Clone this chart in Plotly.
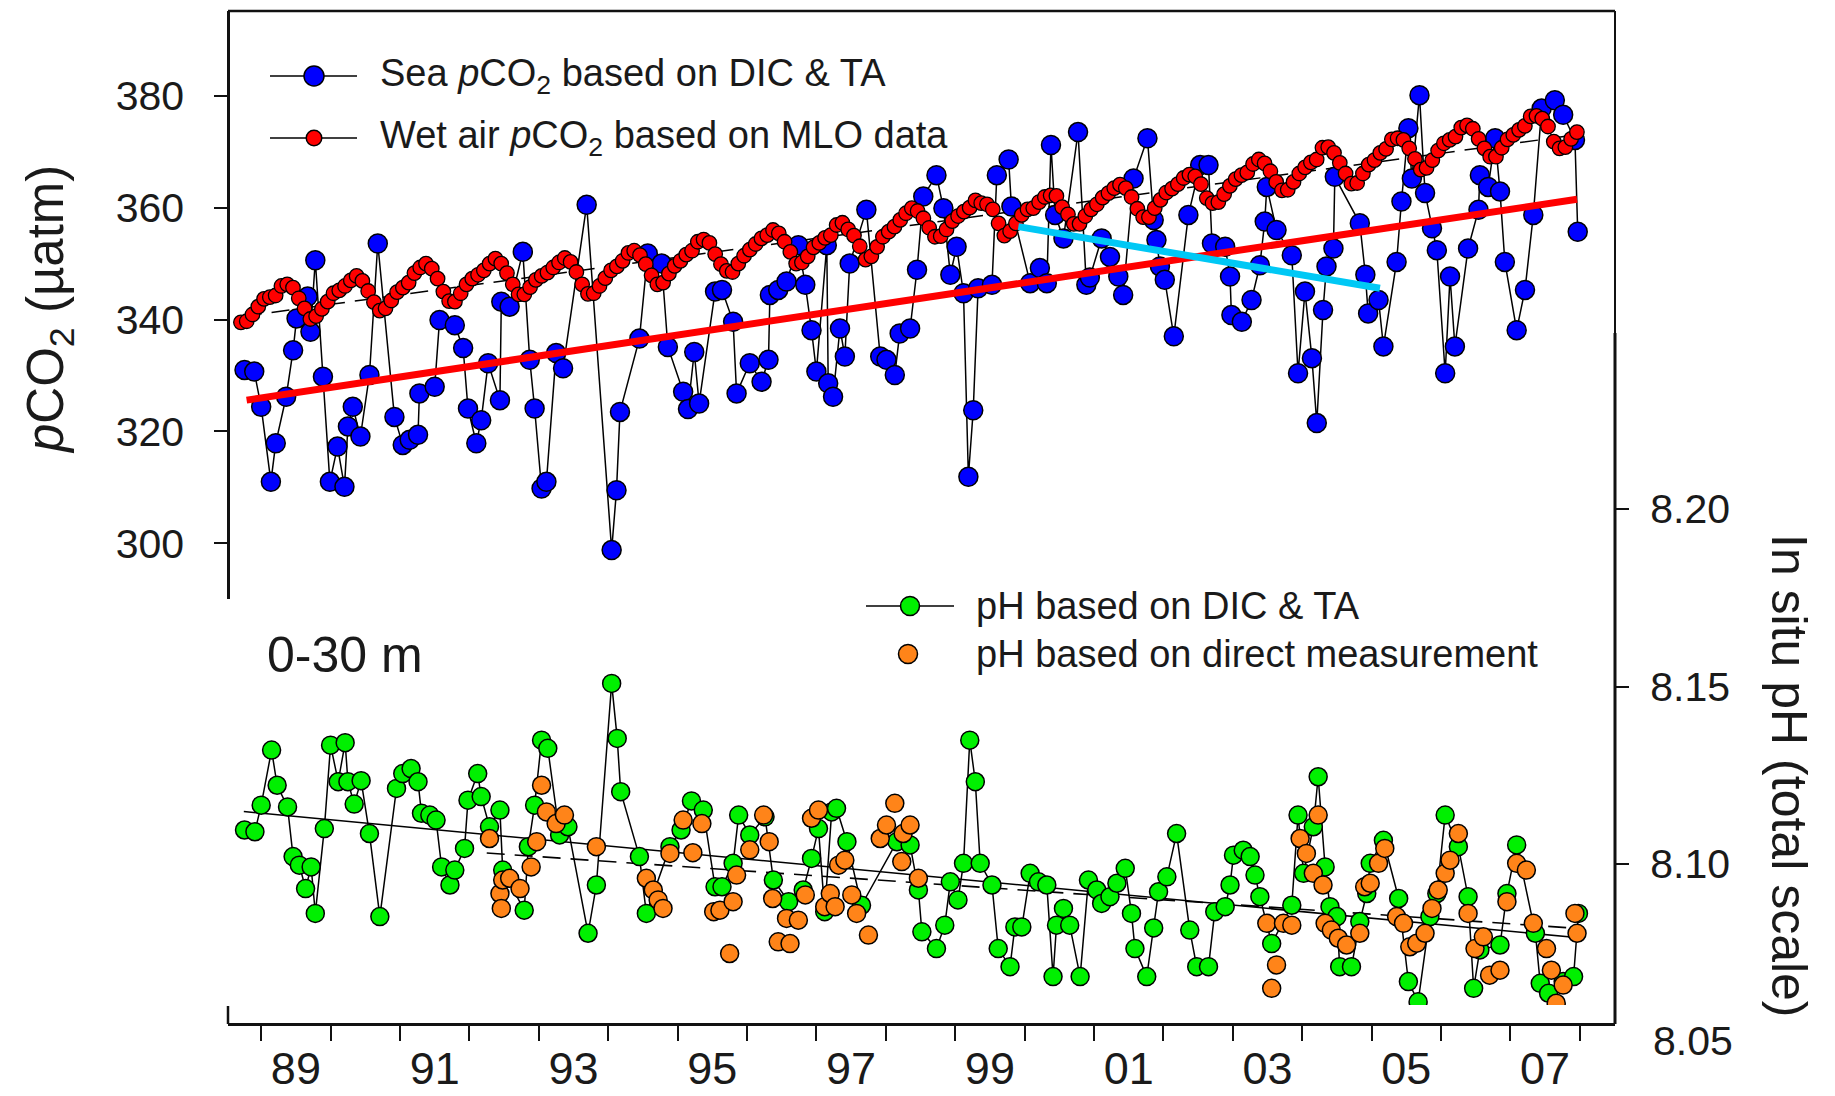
import plotly.graph_objects as go

# ---------------- data ----------------
# Wet air pCO2 (monthly, starting Sep 1988)
air_start_year = 1988
air_start_month = 9
air_pco2 = [
    339.5, 339.7, 340.9, 342.3,
    343.7, 344.0, 344.3, 346.0, 346.3, 345.7, 343.8, 342.0, 340.1, 340.6, 341.9, 343.2,
    344.7, 345.2, 346.0, 347.0, 347.8, 346.9, 345.1, 343.1, 341.6, 342.0, 343.4, 344.9,
    345.7, 346.6, 348.3, 349.3, 350.0, 349.1, 347.3, 345.0, 343.3, 343.2, 344.7, 346.3,
    347.3, 348.0, 348.8, 350.0, 350.9, 350.0, 348.3, 346.3, 344.5, 344.5, 345.8, 347.1,
    347.8, 348.4, 349.3, 350.2, 351.0, 350.3, 348.5, 346.3, 344.6, 344.7, 346.0, 347.4,
    348.8, 349.5, 350.5, 351.9, 352.3, 351.5, 349.9, 347.9, 346.3, 346.6, 348.2, 349.6,
    350.5, 351.6, 352.3, 353.9, 354.3, 353.7, 351.7, 349.9, 348.7, 348.5, 350.0, 351.4,
    352.5, 353.5, 354.5, 355.1, 356.0, 355.4, 353.9, 352.1, 350.0, 350.2, 351.3, 352.9,
    353.7, 354.6, 355.1, 356.9, 357.3, 356.1, 355.0, 353.1, 350.7, 351.3, 353.0, 354.8,
    355.7, 356.6, 357.8, 359.0, 359.9, 359.4, 358.1, 356.4, 354.8, 354.9, 356.1, 357.6,
    358.5, 359.3, 360.0, 361.3, 360.8, 360.6, 359.7, 357.2, 355.0, 355.8, 357.2, 358.7,
    359.7, 359.9, 361.0, 361.9, 362.2, 362.1, 360.1, 358.8, 357.1, 357.1, 358.5, 359.7,
    360.6, 361.8, 362.6, 363.5, 364.1, 363.5, 361.9, 359.8, 358.3, 358.3, 359.9, 361.4,
    362.7, 363.4, 364.2, 365.3, 365.9, 365.6, 364.2, 361.7, 360.8, 361.0, 362.4, 363.9,
    365.1, 365.8, 366.3, 367.8, 368.6, 367.9, 366.5, 364.6, 363.1, 363.2, 364.6, 366.1,
    367.2, 368.1, 368.6, 370.7, 370.8, 369.8, 368.0, 366.1, 364.3, 364.4, 366.1, 367.7,
    368.5, 369.8, 370.5, 372.2, 372.4, 372.1, 370.6, 368.7, 366.8, 367.1, 368.5, 370.2,
    371.5, 372.1, 372.7, 374.3, 374.7, 374.1, 372.3, 370.6, 369.1, 369.1, 370.7, 372.2,
    373.0, 373.9, 374.6, 376.3, 376.4, 375.9, 374.5, 371.8, 370.6, 370.8, 372.3, 373.5,
]

# Sea pCO2 based on DIC & TA
sea_year = [
    1988.76, 1988.90, 1989.00, 1989.14, 1989.21, 1989.36, 1989.46, 1989.51, 1989.67, 1989.71,
    1989.78, 1989.89, 1989.99, 1990.10, 1990.20, 1990.25, 1990.32, 1990.43, 1990.56, 1990.68,
    1990.92, 1991.04, 1991.14, 1991.26, 1991.28, 1991.50, 1991.57, 1991.79, 1991.91, 1991.98,
    1992.10, 1992.17, 1992.27, 1992.44, 1992.46, 1992.58, 1992.77, 1992.87, 1992.94, 1993.04,
    1993.11, 1993.25, 1993.35, 1993.69, 1994.05, 1994.12, 1994.17, 1994.45, 1994.57, 1994.77,
    1994.86, 1995.08, 1995.15, 1995.24, 1995.31, 1995.54, 1995.64, 1995.80, 1995.85, 1996.04,
    1996.21, 1996.31, 1996.33, 1996.45, 1996.57, 1996.74, 1996.84, 1996.93, 1997.00, 1997.15,
    1997.17, 1997.24, 1997.34, 1997.41, 1997.48, 1997.72, 1997.92, 1998.01, 1998.13, 1998.20,
    1998.35, 1998.45, 1998.54, 1998.73, 1998.83, 1998.93, 1999.02, 1999.12, 1999.19, 1999.26,
    1999.33, 1999.53, 1999.60, 1999.77, 1999.81, 2000.08, 2000.22, 2000.32, 2000.38, 2000.44,
    2000.56, 2000.77, 2000.89, 2000.94, 2001.11, 2001.23, 2001.35, 2001.42, 2001.57, 2001.77,
    2001.86, 2001.90, 2001.95, 2002.02, 2002.15, 2002.36, 2002.53, 2002.65, 2002.70, 2002.89,
    2002.96, 2002.98, 2003.13, 2003.27, 2003.39, 2003.46, 2003.49, 2003.63, 2003.85, 2003.94,
    2004.04, 2004.14, 2004.21, 2004.30, 2004.35, 2004.45, 2004.47, 2004.83, 2004.91, 2004.95,
    2005.10, 2005.17, 2005.36, 2005.43, 2005.53, 2005.58, 2005.69, 2005.77, 2005.87, 2005.94,
    2006.06, 2006.13, 2006.20, 2006.39, 2006.54, 2006.56, 2006.68, 2006.78, 2006.85, 2006.92,
    2007.09, 2007.21, 2007.33, 2007.45, 2007.64, 2007.76, 2007.93, 2007.97,
]
sea_pco2 = [
    331.0, 330.7, 324.4, 311.0, 317.9, 326.2, 334.5, 340.2, 344.1, 337.8,
    350.6, 329.8, 311.0, 317.3, 310.1, 320.9, 324.4, 319.1, 330.1, 353.6,
    322.6, 317.6, 318.5, 319.4, 326.8, 328.0, 339.9, 339.0, 334.9, 324.1,
    317.9, 322.0, 332.2, 325.6, 343.2, 342.3, 352.1, 332.8, 324.1, 309.8,
    311.0, 334.0, 331.3, 360.5, 298.8, 309.5, 323.5, 336.6, 351.8, 350.0,
    335.1, 327.1, 324.0, 334.2, 325.0, 345.0, 345.3, 339.6, 326.8, 332.2,
    328.9, 332.8, 344.4, 345.3, 346.8, 353.3, 346.2, 338.1, 330.7, 353.3,
    328.6, 326.2, 338.4, 333.4, 350.0, 359.6, 333.4, 332.8, 330.1, 337.5,
    338.4, 348.9, 362.0, 365.8, 359.9, 348.0, 353.0, 344.7, 311.9, 323.8,
    345.6, 346.2, 365.8, 368.6, 360.2, 346.5, 349.2, 346.5, 371.2, 358.7,
    354.5, 373.5, 346.2, 347.5, 354.5, 351.2, 347.7, 344.4, 365.2, 372.4,
    357.8, 354.2, 349.5, 347.1, 337.0, 358.7, 367.6, 367.6, 353.6, 353.0,
    347.7, 340.8, 339.6, 343.5, 349.7, 357.5, 363.7, 356.0, 351.5, 330.4,
    345.0, 333.1, 321.5, 341.7, 349.5, 352.7, 365.5, 357.2, 348.0, 341.1,
    343.5, 335.2, 350.3, 361.1, 374.2, 365.2, 380.1, 362.6, 356.3, 352.4,
    330.4, 347.7, 335.2, 352.7, 359.6, 365.8, 363.7, 372.4, 362.9, 350.3,
    338.1, 345.3, 358.7, 377.7, 379.2, 376.6, 372.1, 355.7,
]

# pH based on DIC & TA
ph_calc_year = [
    1988.76, 1988.91, 1989.00, 1989.15, 1989.23, 1989.38, 1989.46, 1989.55, 1989.64, 1989.72,
    1989.78, 1989.91, 1990.00, 1990.11, 1990.21, 1990.25, 1990.34, 1990.44, 1990.56, 1990.71,
    1990.95, 1991.04, 1991.16, 1991.26, 1991.31, 1991.43, 1991.52, 1991.60, 1991.72, 1991.79,
    1991.93, 1991.98, 1992.12, 1992.17, 1992.29, 1992.44, 1992.48, 1992.79, 1992.85, 1992.94,
    1993.04, 1993.13, 1993.30, 1993.42, 1993.71, 1993.83, 1994.05, 1994.13, 1994.18, 1994.45,
    1994.55, 1994.89, 1995.05, 1995.20, 1995.37, 1995.54, 1995.64, 1995.80, 1995.88, 1996.04,
    1996.26, 1996.38, 1996.60, 1996.81, 1996.93, 1997.03, 1997.12, 1997.22, 1997.29, 1997.44,
    1997.65, 1998.16, 1998.35, 1998.47, 1998.52, 1998.73, 1998.85, 1998.93, 1999.04, 1999.12,
    1999.21, 1999.29, 1999.36, 1999.53, 1999.62, 1999.79, 1999.86, 1999.96, 2000.08, 2000.20,
    2000.32, 2000.41, 2000.46, 2000.56, 2000.65, 2000.80, 2000.92, 2001.04, 2001.11, 2001.23,
    2001.33, 2001.45, 2001.54, 2001.59, 2001.76, 2001.86, 2001.93, 2002.05, 2002.19, 2002.38,
    2002.48, 2002.65, 2002.74, 2002.89, 2002.96, 2003.01, 2003.15, 2003.25, 2003.32, 2003.39,
    2003.56, 2003.85, 2003.94, 2004.02, 2004.16, 2004.23, 2004.33, 2004.40, 2004.50, 2004.54,
    2004.71, 2004.83, 2004.93, 2004.98, 2005.17, 2005.39, 2005.53, 2005.67, 2005.84, 2005.94,
    2006.06, 2006.25, 2006.39, 2006.47, 2006.56, 2006.85, 2006.95, 2007.09, 2007.36, 2007.43,
    2007.55, 2007.76, 2007.91, 2007.98,
]
ph_calc = [
    8.1096, 8.1091, 8.1166, 8.1321, 8.1222, 8.1161, 8.1021, 8.0997, 8.0931, 8.0992,
    8.0861, 8.1100, 8.1335, 8.1232, 8.1342, 8.1232, 8.1169, 8.1235, 8.1086, 8.0852,
    8.1213, 8.1255, 8.1269, 8.1232, 8.1143, 8.1138, 8.1124, 8.0992, 8.0941, 8.0983,
    8.1044, 8.1180, 8.1255, 8.1190, 8.1105, 8.1152, 8.0983, 8.0870, 8.1049, 8.1166,
    8.1349, 8.1326, 8.1082, 8.1105, 8.0805, 8.0941, 8.1509, 8.1354, 8.1204, 8.1021,
    8.0861, 8.1049, 8.1096, 8.1178, 8.1152, 8.0936, 8.0936, 8.1002, 8.1138, 8.1082,
    8.1133, 8.0955, 8.0894, 8.0927, 8.1016, 8.1100, 8.0866, 8.1147, 8.1157, 8.1063,
    8.0884, 8.1063, 8.1054, 8.0927, 8.0809, 8.0762, 8.0828, 8.0950, 8.0899, 8.1002,
    8.1349, 8.1232, 8.1002, 8.0941, 8.0762, 8.0711, 8.0823, 8.0823, 8.0974, 8.0950,
    8.0941, 8.0683, 8.0828, 8.0875, 8.0828, 8.0683, 8.0955, 8.0927, 8.0889, 8.0908,
    8.0946, 8.0988, 8.0861, 8.0762, 8.0683, 8.0820, 8.0922, 8.0964, 8.1086, 8.0814,
    8.0711, 8.0711, 8.0866, 8.0880, 8.0941, 8.1025, 8.1039, 8.1021, 8.0969, 8.0908,
    8.0776, 8.0884, 8.1138, 8.0974, 8.1105, 8.1246, 8.0992, 8.0880, 8.0852, 8.0711,
    8.0711, 8.0838, 8.0917, 8.1002, 8.1067, 8.0903, 8.0669, 8.0612, 8.0852, 8.0917,
    8.1138, 8.1049, 8.0908, 8.0650, 8.0758, 8.0772, 8.0917, 8.1054, 8.0805, 8.0664,
    8.0636, 8.0669, 8.0683, 8.0861,
]

# pH based on direct measurement
ph_meas_year = [
    1992.29, 1992.44, 1992.46, 1992.48, 1992.58, 1992.73, 1992.89, 1992.97, 1993.04, 1993.11,
    1993.25, 1993.37, 1993.83, 1994.55, 1994.65, 1994.72, 1994.79, 1994.89, 1995.08, 1995.22,
    1995.35, 1995.52, 1995.61, 1995.75, 1995.80, 1995.85, 1996.04, 1996.24, 1996.32, 1996.37,
    1996.45, 1996.57, 1996.62, 1996.74, 1996.84, 1996.93, 1997.03, 1997.12, 1997.20, 1997.27,
    1997.32, 1997.41, 1997.51, 1997.58, 1997.75, 1997.92, 1998.01, 1998.13, 1998.23, 1998.25,
    1998.35, 1998.47, 2003.49, 2003.56, 2003.63, 2003.73, 2003.85, 2003.97, 2004.06, 2004.16,
    2004.23, 2004.30, 2004.33, 2004.42, 2004.52, 2004.64, 2004.83, 2004.90, 2004.98, 2005.10,
    2005.19, 2005.36, 2005.46, 2005.55, 2005.65, 2005.77, 2005.87, 2005.96, 2006.06, 2006.13,
    2006.25, 2006.39, 2006.49, 2006.61, 2006.70, 2006.85, 2006.95, 2007.09, 2007.23, 2007.33,
    2007.52, 2007.59, 2007.66, 2007.76, 2007.93, 2007.96,
]
ph_meas = [
    8.1072, 8.0917, 8.0875, 8.0955, 8.0960, 8.0931, 8.0992, 8.1063, 8.1222, 8.1147,
    8.1114, 8.1138, 8.1049, 8.0960, 8.0927, 8.0899, 8.0875, 8.1030, 8.1124, 8.1032,
    8.1114, 8.0866, 8.0870, 8.0748, 8.0894, 8.0969, 8.1040, 8.1138, 8.1063, 8.0903,
    8.0781, 8.0847, 8.0776, 8.0842, 8.0913, 8.1129, 8.1152, 8.0880, 8.0917, 8.0880,
    8.0997, 8.1011, 8.0913, 8.0861, 8.0800, 8.1072, 8.1110, 8.1171, 8.1007, 8.1086,
    8.1110, 8.0960, 8.0833, 8.0650, 8.0716, 8.0833, 8.0828, 8.1072, 8.1030, 8.0974,
    8.1138, 8.0941, 8.0833, 8.0814, 8.0791, 8.0772, 8.0805, 8.0936, 8.0946, 8.1002,
    8.1044, 8.0852, 8.0833, 8.0767, 8.0777, 8.0805, 8.0875, 8.0927, 8.0974, 8.1011,
    8.1086, 8.0861, 8.0762, 8.0795, 8.0687, 8.0701, 8.0894, 8.1002, 8.0983, 8.0833,
    8.0762, 8.0701, 8.0608, 8.0659, 8.0861, 8.0805,
]

# Trend lines (end points)
air_trend_year = [1988.75, 2007.95]
air_trend_pco2 = [340.6, 373.0]
sea_trend_year = [1988.79, 2007.96]
sea_trend_pco2 = [325.6, 361.5]
sea_recent_year = [1999.91, 2005.12]
sea_recent_pco2 = [356.6, 345.6]
ph_calc_trend_year = [1988.75, 2007.95]
ph_calc_trend = [8.1148, 8.0793]
ph_meas_trend_year = [1992.25, 2007.95]
ph_meas_trend = [8.1031, 8.0819]

year_ticks = list(range(1989, 2009))
year_label_pos = [y + 0.5 for y in range(1989, 2008, 2)]
year_labels = ["89", "91", "93", "95", "97", "99", "01", "03", "05", "07"]
pco2_ticks = [300, 320, 340, 360, 380]
ph_ticks = [8.10, 8.15, 8.20]

air_year = [air_start_year + (air_start_month - 1 + i + 0.5) / 12.0 for i in range(len(air_pco2))]

# ---------------- figure ----------------
FONT = "Liberation Sans, Arial, sans-serif"
INK = "#1a1a1a"
fig = go.Figure()

fig.add_trace(go.Scatter(x=air_trend_year, y=air_trend_pco2, mode="lines",
                         line=dict(color="black", width=1.5, dash="18px,10px"),
                         xaxis="x", yaxis="y", hoverinfo="skip"))
fig.add_trace(go.Scatter(x=sea_year, y=sea_pco2, mode="lines+markers",
                         line=dict(color="black", width=1.5),
                         marker=dict(size=19, color="#0000FF", line=dict(color="black", width=1.5)),
                         xaxis="x", yaxis="y", name="Sea pCO2"))
fig.add_trace(go.Scatter(x=air_year, y=air_pco2, mode="lines+markers",
                         line=dict(color="black", width=1.2),
                         marker=dict(size=14.5, color="#FF0000", line=dict(color="black", width=1.3)),
                         xaxis="x", yaxis="y", name="Wet air pCO2"))
fig.add_trace(go.Scatter(x=sea_trend_year, y=sea_trend_pco2, mode="lines",
                         line=dict(color="#FF0000", width=7), xaxis="x", yaxis="y"))
fig.add_trace(go.Scatter(x=sea_recent_year, y=sea_recent_pco2, mode="lines",
                         line=dict(color="#00C8F5", width=7), xaxis="x", yaxis="y"))

fig.add_trace(go.Scatter(x=ph_calc_trend_year, y=ph_calc_trend, mode="lines",
                         line=dict(color="black", width=1.6), xaxis="x", yaxis="y2"))
fig.add_trace(go.Scatter(x=ph_meas_trend_year, y=ph_meas_trend, mode="lines",
                         line=dict(color="black", width=1.6, dash="18px,10px"), xaxis="x", yaxis="y2"))
fig.add_trace(go.Scatter(x=ph_calc_year, y=ph_calc, mode="lines+markers",
                         line=dict(color="black", width=1.5),
                         marker=dict(size=18, color="#00F000", line=dict(color="black", width=1.5)),
                         xaxis="x", yaxis="y2", name="pH calc"))
fig.add_trace(go.Scatter(x=ph_meas_year, y=ph_meas, mode="markers",
                         marker=dict(size=18, color="#FF8419", line=dict(color="black", width=1.5)),
                         xaxis="x", yaxis="y2", name="pH meas"))

L, R, T, B = 228, 220, 11, 72
W, H = 1835, 1096
PW, PH = W - L - R, H - T - B


def px(fx):
    return (fx - L) / PW


def py(fy):
    return (H - B - fy) / PH


fig.update_layout(
    width=W, height=H,
    margin=dict(l=L, r=R, t=T, b=B, autoexpand=False),
    paper_bgcolor="white", plot_bgcolor="rgba(0,0,0,0)",
    showlegend=False,
    font=dict(family=FONT, color=INK),
    xaxis=dict(
        range=[1988.522, 2008.507], anchor="free", position=0, automargin=False,
        showline=True, linecolor="#111", linewidth=2.5,
        tickmode="array", tickvals=year_label_pos, ticktext=year_labels,
        ticks="", tickfont=dict(size=45, color=INK), ticklabelstandoff=4,
        minor=dict(tickmode="array", tickvals=year_ticks, ticks="outside",
                   ticklen=15, tickwidth=2, tickcolor="#111"),
        showgrid=False, zeroline=False,
    ),
    yaxis=dict(
        domain=[py(599), 1], range=[290.06, 395.14], anchor="free", position=0,
        automargin=False,
        showline=True, linecolor="#111", linewidth=2.5,
        tickmode="array", tickvals=pco2_ticks, ticks="outside", ticklen=13,
        tickwidth=2, tickcolor="#111", tickfont=dict(size=41, color=INK),
        ticklabelstandoff=22, showgrid=False, zeroline=False,
    ),
    yaxis2=dict(
        domain=[py(1005), py(333)], range=[8.0603, 8.2496], anchor="free", position=1,
        automargin=False,
        side="right", showline=False,
        tickmode="array", tickvals=ph_ticks, ticktext=["8.10", "8.15", "8.20"],
        ticks="outside", ticklen=13, tickwidth=2, tickcolor="#111",
        tickfont=dict(size=41, color=INK), ticklabelstandoff=13,
        showgrid=False, zeroline=False,
    ),
)

shapes = []
# frame
shapes.append(dict(type="line", xref="paper", yref="paper", x0=0, x1=1, y0=1, y1=1,
                   line=dict(color="#111", width=2.5)))
shapes.append(dict(type="line", xref="paper", yref="paper", x0=1, x1=1, y0=py(333), y1=1,
                   line=dict(color="#111", width=2)))
shapes.append(dict(type="line", xref="paper", yref="paper", x0=1, x1=1, y0=0, y1=py(333),
                   line=dict(color="#111", width=3)))
shapes.append(dict(type="line", xref="paper", yref="paper", x0=0, x1=0, y0=0, y1=py(1006),
                   line=dict(color="#111", width=2.5)))


def legend_line(fx0, fx1, fy):
    shapes.append(dict(type="line", xref="paper", yref="paper", x0=px(fx0), x1=px(fx1),
                       y0=py(fy), y1=py(fy), line=dict(color="black", width=1.5)))


def legend_dot(fx, fy, d, color):
    r = d / 2
    shapes.append(dict(type="circle", xref="paper", yref="paper",
                       xsizemode="pixel", ysizemode="pixel",
                       xanchor=px(fx), yanchor=py(fy), x0=-r, x1=r, y0=-r, y1=r,
                       fillcolor=color, line=dict(color="black", width=1.5)))


legend_line(270, 357, 76)
legend_dot(314, 76, 20, "#0000FF")
legend_line(270, 357, 138)
legend_dot(314, 138, 15.5, "#FF0000")
legend_line(866, 954, 606)
legend_dot(910, 606, 19, "#00F000")
legend_dot(908, 654, 19, "#FF8419")

fig.update_layout(shapes=shapes)

ann = []


def text(fx, fy, s, size, xanchor="left", angle=0):
    ann.append(dict(xref="paper", yref="paper", x=px(fx), y=py(fy), text=s,
                    showarrow=False, xanchor=xanchor, yanchor="middle", textangle=angle,
                    font=dict(size=size, color=INK, family=FONT)))


text(378, 76, "Sea <i>p</i>CO<sub>2</sub> based on DIC &amp; TA", 38)
text(378, 138, "Wet air <i>p</i>CO<sub>2</sub> based on MLO data", 38)
text(974, 606, "pH based on DIC &amp; TA", 38)
text(974, 654, "pH based on direct measurement", 38)
text(265, 655, "0-30 m", 50)
text(49, 310, "<i>p</i>CO<sub>2</sub> (µatm)", 51, xanchor="center", angle=-90)
text(1789, 776, "In situ pH (total scale)", 50, xanchor="center", angle=90)
text(1651, 1040.6, "8.05", 41)

fig.update_layout(annotations=ann)

fig.write_html("out.html")
